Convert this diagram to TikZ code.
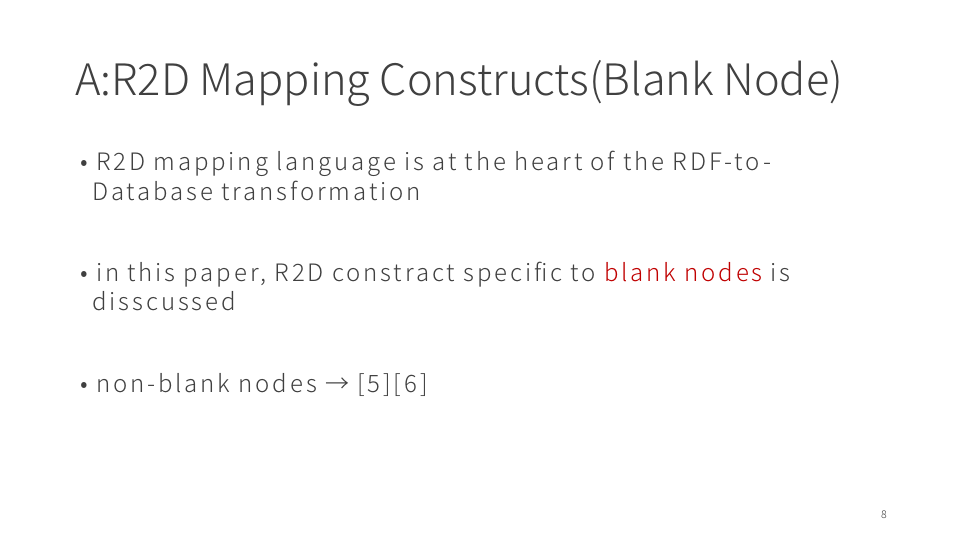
\documentclass[tikz,border=0pt]{standalone}
\usepackage{fontspec}
\setmainfont{Noto Sans CJK JP}[UprightFont=* Light]
\newfontfamily\bodyfont{Noto Sans CJK JP Light}[LetterSpace=12]
\definecolor{slidered}{RGB}{192,0,0}
\definecolor{slidegray}{RGB}{64,64,64}
\begin{document}
\begin{tikzpicture}[x=0.75pt,y=-0.75pt,
  every node/.style={inner sep=0pt,anchor=base west,text=slidegray},
  titletext/.style={font=\fontsize{32.5}{36}\selectfont},
  bodytext/.style={font=\bodyfont\fontsize{18}{22.5}\selectfont}]
\useasboundingbox[fill=white] (0,0) rectangle (960,540);
% title
\node[titletext] (title) at (75,95) {A:R2D Mapping Constructs(Blank Node)};
% bullets
\node[bodytext] (b1a) at (80,170) {\textbullet\ R2D mapping language is at the heart of the RDF-to-};
\node[bodytext] (b1b) at (92,200) {Database transformation};
\node[bodytext] (b2a) at (80,281) {\textbullet\ in this paper, R2D constract specific to \textcolor{slidered}{blank nodes} is};
\node[bodytext] (b2b) at (92,310) {disscussed};
\node[bodytext] (b3) at (80,392) {\textbullet\ non-blank nodes → [5][6]};
% page number
\node[font=\fontsize{8}{10}\selectfont,anchor=base east] (page) at (887,518) {8};
\end{tikzpicture}
\end{document}
